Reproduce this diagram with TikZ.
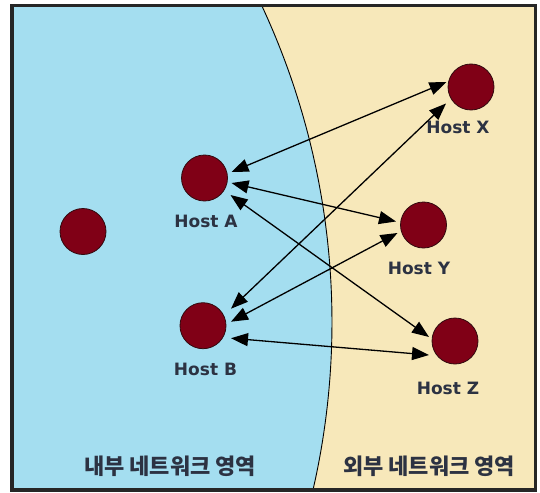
\documentclass[tikz,border=0pt]{standalone}
\usepackage{fontspec}
\setmainfont{DejaVu Sans}
\newfontfamily\kr{Noto Sans CJK KR}
\usetikzlibrary{arrows.meta,calc}
\definecolor{inblue}{RGB}{164,222,240}
\definecolor{outbeige}{RGB}{247,232,186}
\definecolor{hostred}{RGB}{128,0,22}
\definecolor{hostedge}{RGB}{50,10,15}
\definecolor{labcol}{RGB}{44,50,66}
\tikzset{
  host/.style={circle,fill=hostred,draw=hostedge,line width=0.8pt,minimum size=46pt,inner sep=0pt},
  hostlabel/.style={font=\fontsize{17}{17}\selectfont\bfseries,text=labcol,inner sep=0pt},
  zonelabel/.style={font=\kr\fontsize{22}{22}\selectfont\bfseries,text=labcol,inner sep=0pt},
  link/.style={line width=1.3pt,{Triangle[length=17pt,width=13pt]}-{Triangle[length=17pt,width=13pt]}}
}
\begin{document}
\begin{tikzpicture}[x=1pt,y=-1pt]
\useasboundingbox (0,0) rectangle (540,492);
\fill[white] (0,0) rectangle (540,492);
% zones
\fill[inblue] (12,5.5) rectangle (535.5,490);
\begin{scope}
\clip (12,5.5) rectangle (535.5,490);
\fill[outbeige] plot[domain=-27:14,samples=80,smooth] ({-417.4+749.4*cos(\x)},{322.3+749.4*sin(\x)}) -- (540,520) -- (540,-20) -- cycle;
\draw[line width=0.9pt,black] plot[domain=-27:14,samples=80,smooth] ({-417.4+749.4*cos(\x)},{322.3+749.4*sin(\x)});
\end{scope}
\draw[line width=3.5pt,black!85] (12,5.5) rectangle (535.5,490);
% hosts
\node[host] (L) at (83,231.5) {};
\node[host] (A) at (204.5,178) {};
\node[host] (B) at (203,325.7) {};
\node[host] (X) at (471,87) {};
\node[host] (Y) at (423.5,225) {};
\node[host] (Z) at (455,341) {};
\node[hostlabel] (LA) at (206,221) {Host A};
\node[hostlabel] (LB) at (205.5,369) {Host B};
\node[hostlabel] (LX) at (458,127) {Host X};
\node[hostlabel] (LY) at (419,268) {Host Y};
\node[hostlabel] (LZ) at (448,388.5) {Host Z};
\node[zonelabel] (IN) at (170,466) {내부 네트워크 영역};
\node[zonelabel] (OUT) at (429,466) {외부 네트워크 영역};
% links
\draw[link] ($(A)+(27,-6)$) -- ($(X)+(-24.5,-5)$);
\draw[link] ($(A)+(27,5)$) -- ($(Y)+(-27.5,-3.5)$);
\draw[link] ($(A)+(26,17)$) -- ($(Z)+(-26,-4)$);
\draw[link] ($(B)+(28,-17)$) -- ($(X)+(-25,16.5)$);
\draw[link] ($(B)+(28,-4)$) -- ($(Y)+(-26,8)$);
\draw[link] ($(B)+(28,12.5)$) -- ($(Z)+(-26,14)$);
\end{tikzpicture}
\end{document}
